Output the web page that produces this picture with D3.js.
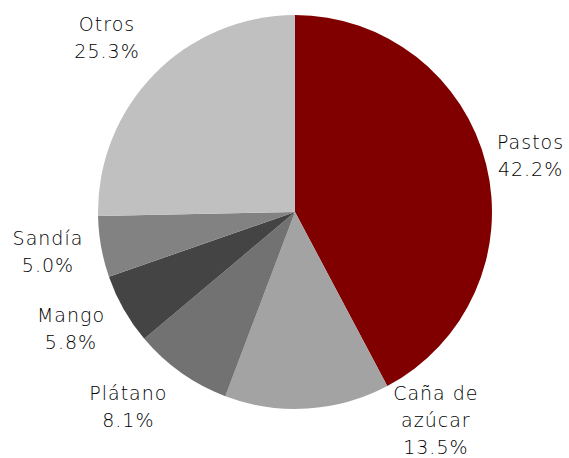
<!DOCTYPE html>
<html>
<head>
    <meta charset="utf-8">
    <title>Pie</title>
    <style type="text/css">
        body { margin: 0; background: #fff; }
        text { font-family: "DejaVu Sans", sans-serif; font-weight: 200; font-size: 19px; letter-spacing: 1px; fill: #000; }
    </style>
</head>
<body>
<svg id="chart" width="569" height="458"></svg>

<script src="https://cdn.jsdelivr.net/npm/d3@7"></script>
<script type="text/javascript">
    // datos
    var categories = ["Pastos", "Caña de azúcar", "Plátano", "Mango", "Sandía", "Otros"];
    var values = [42.2, 13.5, 8.1, 5.8, 5.0, 25.3];
    var labelLines = [["Pastos"], ["Caña de", "azúcar"], ["Plátano"], ["Mango"], ["Sandía"], ["Otros"]];
    var colors = ["#800000", "#a3a3a3", "#727272", "#444444", "#828282", "#c0c0c0"];

    var cx = 295, cy = 212, r = 197;
    var lineH = 27;

    var svg = d3.select("#chart");
    var g = svg.append("g").attr("transform", "translate(" + cx + "," + cy + ")");

    var pie = d3.pie().sort(null).value(function (d) { return d; });
    var arcs = pie(values);

    var arc = d3.arc().innerRadius(0).outerRadius(r);
    var labelArc = d3.arc().innerRadius(252).outerRadius(252);

    var color = d3.scaleOrdinal().domain(categories).range(colors);

    g.selectAll("path")
        .data(arcs)
        .enter().append("path")
        .attr("d", arc)
        .attr("fill", function (d, i) { return color(categories[i]); });

    // ajustes de etiquetas (Excel las acomoda a mano)
    var nudge = {
        "Pastos": [-9, 5],
        "Caña de azúcar": [125, -43],
        "Plátano": [-21, -11],
        "Mango": [-5, -8],
        "Sandía": [1, -5],
        "Otros": [-8, 2]
    };

    var labels = g.selectAll("g.lbl")
        .data(arcs)
        .enter().append("g")
        .attr("class", "lbl")
        .attr("transform", function (d, i) {
            var c = labelArc.centroid(d);
            var n = nudge[categories[i]] || [0, 0];
            return "translate(" + (c[0] + n[0]) + "," + (c[1] + n[1]) + ")";
        });

    labels.each(function (d, i) {
        var lines = labelLines[i].concat([d3.format(".1f")(values[i]) + "%"]);
        var top = -(lines.length - 1) * lineH / 2;
        d3.select(this).selectAll("text")
            .data(lines)
            .enter().append("text")
            .attr("text-anchor", "middle")
            .attr("dy", "0.35em")
            .attr("y", function (t, j) { return top + j * lineH; })
            .text(function (t) { return t; });
    });
</script>
</body>
</html>
